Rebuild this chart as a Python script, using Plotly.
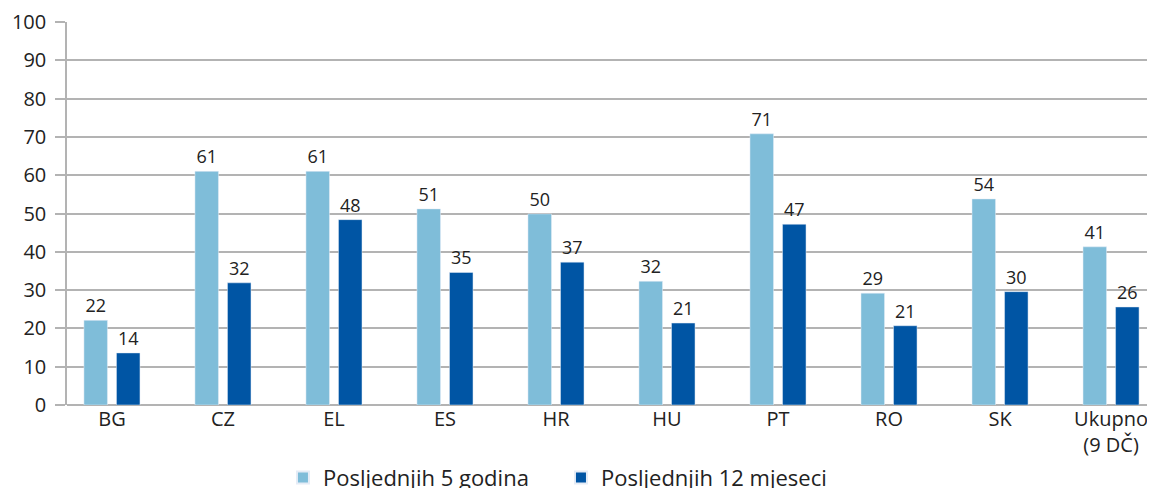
import plotly.graph_objects as go

# categories and values
categories = ["BG", "CZ", "EL", "ES", "HR", "HU", "PT", "RO", "SK", "Ukupno<br>(9 DČ)"]
last_5_years = [22.1, 61.0, 61.0, 51.2, 49.9, 32.3, 70.8, 29.2, 53.8, 41.3]
last_12_months = [13.6, 31.9, 48.4, 34.6, 37.3, 21.4, 47.2, 20.7, 29.6, 25.6]
series_names = ["Posljednjih 5 godina", "Posljednjih 12 mjeseci"]
y_ticks = list(range(0, 101, 10))

light = "#7fbdd9"
dark = "#0055a4"
font = "Open Sans"
grid = "#b3b3b3"

fig = go.Figure()
fig.add_trace(go.Bar(
    x=categories, y=last_5_years, name=series_names[0],
    marker=dict(color=light),
    texttemplate="%{y:.0f}", textposition="outside",
    textfont=dict(size=18, color="#222222"),
    cliponaxis=False,
))
fig.add_trace(go.Bar(
    x=categories, y=last_12_months, name=series_names[1],
    marker=dict(color=dark),
    texttemplate="%{y:.0f}", textposition="outside",
    textfont=dict(size=18, color="#222222"),
    cliponaxis=False,
))

# the page body has an 8px margin, so the figure is offset by 8px
fig.update_layout(
    width=1155, height=488,
    margin=dict(l=59, r=8, t=14, b=91, autoexpand=False),
    paper_bgcolor="white", plot_bgcolor="white",
    font=dict(family=font, color="#222222"),
    barmode="group", bargap=0.414, bargroupgap=0.277,
    showlegend=True,
    legend=dict(
        orientation="h", x=0.1985, y=-0.19, xanchor="left", yanchor="middle",
        font=dict(size=22, color="#222222"),
        entrywidth=233, entrywidthmode="pixels",
        itemsizing="constant",
    ),
    xaxis=dict(
        range=[-0.405, 9.396],
        showgrid=False, ticks="", showline=False,
        tickfont=dict(size=20, color="#222222"),
    ),
    yaxis=dict(
        range=[0, 100], tickvals=y_ticks,
        showgrid=True, gridcolor=grid, gridwidth=1.5,
        showline=True, linecolor=grid, linewidth=1.5,
        ticks="outside", ticklen=10, tickcolor=grid, tickwidth=1.5,
        ticklabelstandoff=5,
        tickfont=dict(size=20, color="#222222"),
        zeroline=True, zerolinecolor=grid, zerolinewidth=1.5,
    ),
)

fig.write_html("out.html")
